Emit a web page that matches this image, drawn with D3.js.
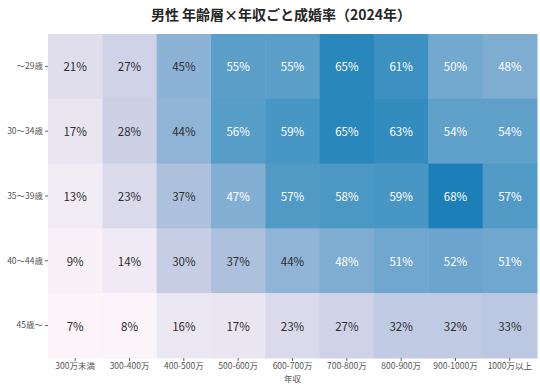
<!DOCTYPE html>
<html>
<head>
<meta charset="utf-8">
<script src="https://cdn.jsdelivr.net/npm/d3@7"></script>
<style>
  body { margin: 0; background: #fff; }
  text { font-family: "Noto Sans CJK JP", "Noto Sans", sans-serif; }
</style>
</head>
<body>
<div id="chart"></div>
<script>
// data
const incomes = ["300万未満", "300-400万", "400-500万", "500-600万", "600-700万", "700-800万", "800-900万", "900-1000万", "1000万以上"];
const ages = ["～29歳", "30～34歳", "35～39歳", "40～44歳", "45歳～"];
const rate29 = [21, 27, 45, 55, 55, 65, 61, 50, 48];
const rate30 = [17, 28, 44, 56, 59, 65, 63, 54, 54];
const rate35 = [13, 23, 37, 47, 57, 58, 59, 68, 57];
const rate40 = [9, 14, 30, 37, 44, 48, 51, 52, 51];
const rate45 = [7, 8, 16, 17, 23, 27, 32, 32, 33];
const rates = [rate29, rate30, rate35, rate40, rate45];

const cells = [];
rates.forEach((row, i) => row.forEach((v, j) => {
    cells.push({ age: ages[i], income: incomes[j], value: v });
}));

const W = 540, H = 388;
const margin = { top: 34, right: 3, bottom: 30, left: 48 };
const width = W - margin.left - margin.right;
const height = H - margin.top - margin.bottom;

const svg = d3.select("#chart").append("svg")
    .attr("width", W)
    .attr("height", H);

const g = svg.append("g")
    .attr("transform", `translate(${margin.left}, ${margin.top})`);

const x = d3.scaleBand().domain(incomes).range([0, width]);
const y = d3.scaleBand().domain(ages).range([0, height]);
const color = d3.scaleSequential(d3.interpolatePuBu).domain([5, 96]);

// cells
g.selectAll(".cell")
    .data(cells)
    .enter().append("rect")
    .attr("class", "cell")
    .attr("x", d => x(d.income))
    .attr("y", d => y(d.age))
    .attr("width", x.bandwidth() + 0.5)
    .attr("height", y.bandwidth() + 0.5)
    .attr("fill", d => color(d.value));

// pick text colour from cell luminance (like seaborn)
const lum = c => {
    const rgb = d3.rgb(c);
    const f = v => { v /= 255; return v <= 0.03928 ? v / 12.92 : Math.pow((v + 0.055) / 1.055, 2.4); };
    return 0.2126 * f(rgb.r) + 0.7152 * f(rgb.g) + 0.0722 * f(rgb.b);
};

g.selectAll(".label")
    .data(cells)
    .enter().append("text")
    .attr("class", "label")
    .attr("x", d => x(d.income) + x.bandwidth() / 2)
    .attr("y", d => y(d.age) + y.bandwidth() / 2)
    .attr("text-anchor", "middle")
    .attr("dominant-baseline", "central")
    .style("font-size", "11.5px")
    .attr("fill", d => d.value >= 47 ? "#ffffff" : "#2e2e2e")
    .text(d => d.value + "%");

// axes
const xAxis = g.append("g")
    .attr("transform", `translate(0, ${height})`)
    .call(d3.axisBottom(x).tickSize(3).tickPadding(2));
const yAxis = g.append("g")
    .call(d3.axisLeft(y).tickSize(3).tickPadding(2));

[xAxis, yAxis].forEach(a => {
    a.select(".domain").remove();
    a.selectAll("line").attr("stroke", "#666");
    a.selectAll("text")
        .attr("fill", "#555")
        .style("font-size", "8.5px");
});

// x-axis title
svg.append("text")
    .attr("x", margin.left + width / 2)
    .attr("y", H - 6)
    .attr("text-anchor", "middle")
    .attr("fill", "#555")
    .style("font-size", "8.5px")
    .text("年収");

// chart title
svg.append("text")
    .attr("x", 281)
    .attr("y", 20)
    .attr("text-anchor", "middle")
    .attr("fill", "#262626")
    .style("font-size", "14px")
    .style("font-weight", "bold")
    .text("男性 年齢層×年収ごと成婚率（2024年）");
</script>
</body>
</html>
